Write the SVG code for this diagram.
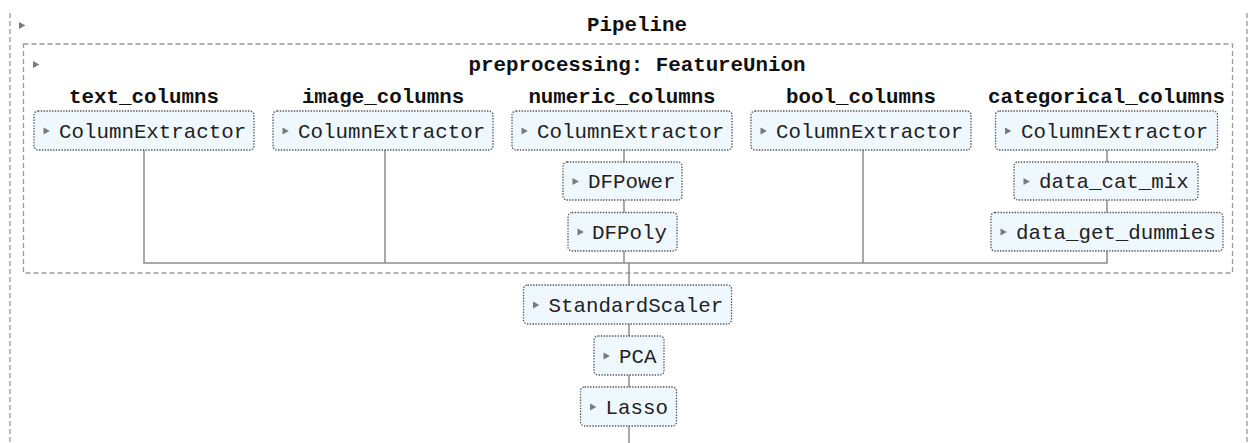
<svg xmlns="http://www.w3.org/2000/svg" width="1253" height="443" viewBox="0 0 1253 443">
  <style>
    .bg { fill: #ffffff; }
    .frame { fill: none; stroke: #9a9a9a; stroke-width: 1.3; stroke-dasharray: 5 3; }
    .wire { fill: none; stroke: #8c8c8c; stroke-width: 1.5; }
    .box { fill: #f0f8ff; stroke: #555555; stroke-width: 1.3; stroke-dasharray: 1.4 1.4; }
    .lbl { font-family: "Liberation Mono", "Courier New", monospace; font-size: 20.8px; fill: #222222; }
    .ttl { font-family: "Liberation Mono", "Courier New", monospace; font-size: 20.8px; font-weight: bold; fill: #111111; text-anchor: middle; }
    .tri { fill: #7a7a7a; }
  </style>
  <defs>
    <path id="caret" d="M0,-3.6 L6.4,0 L0,3.6 Z"/>
  </defs>

  <rect class="bg" x="0" y="0" width="1253" height="443"/>

  <!-- Pipeline container -->
  <g id="pipeline">
    <line class="frame" x1="10" y1="13" x2="10" y2="443"/>
    <line class="frame" x1="1247" y1="13" x2="1247" y2="443"/>
    <use href="#caret" class="tri" x="19" y="25.5"/>
    <text class="ttl" x="637" y="31">Pipeline</text>
  </g>

  <!-- FeatureUnion container -->
  <g id="preprocessing">
    <rect class="frame" x="23.5" y="44" width="1209" height="229"/>
    <use href="#caret" class="tri" x="33" y="64.5"/>
    <text class="ttl" x="637" y="71">preprocessing: FeatureUnion</text>
    <text class="ttl" x="144" y="103">text_columns</text>
    <text class="ttl" x="383" y="103">image_columns</text>
    <text class="ttl" x="622" y="103">numeric_columns</text>
    <text class="ttl" x="861" y="103">bool_columns</text>
    <text class="ttl" x="1106.5" y="103">categorical_columns</text>
  </g>

  <!-- connectors -->
  <g id="connectors">
    <line class="wire" x1="144" y1="150" x2="144" y2="263"/>
    <line class="wire" x1="385" y1="150" x2="385" y2="263"/>
    <line class="wire" x1="624" y1="150" x2="624" y2="263"/>
    <line class="wire" x1="863" y1="150" x2="863" y2="263"/>
    <line class="wire" x1="1107" y1="150" x2="1107" y2="263"/>
    <line class="wire" x1="143.25" y1="263" x2="1107.75" y2="263"/>
    <line class="wire" x1="629" y1="263" x2="629" y2="443"/>
  </g>

  <!-- estimators -->
  <g id="text_columns_extractor">
    <rect class="box" x="34" y="111" width="220" height="39" rx="4"/>
    <use href="#caret" class="tri" x="43.5" y="131"/>
    <text class="lbl" x="59" y="137.5">ColumnExtractor</text>
  </g>
  <g id="image_columns_extractor">
    <rect class="box" x="273" y="111" width="220" height="39" rx="4"/>
    <use href="#caret" class="tri" x="282.5" y="131"/>
    <text class="lbl" x="298" y="137.5">ColumnExtractor</text>
  </g>
  <g id="numeric_columns_extractor">
    <rect class="box" x="512" y="111" width="220" height="39" rx="4"/>
    <use href="#caret" class="tri" x="521.5" y="131"/>
    <text class="lbl" x="537" y="137.5">ColumnExtractor</text>
  </g>
  <g id="bool_columns_extractor">
    <rect class="box" x="751" y="111" width="220" height="39" rx="4"/>
    <use href="#caret" class="tri" x="760.5" y="131"/>
    <text class="lbl" x="776" y="137.5">ColumnExtractor</text>
  </g>
  <g id="categorical_columns_extractor">
    <rect class="box" x="995.5" y="111" width="222" height="39" rx="4"/>
    <use href="#caret" class="tri" x="1005" y="131"/>
    <text class="lbl" x="1021" y="137.5">ColumnExtractor</text>
  </g>
  <g id="dfpower">
    <rect class="box" x="563" y="162" width="119" height="38" rx="4"/>
    <use href="#caret" class="tri" x="572.5" y="181.5"/>
    <text class="lbl" x="588" y="188">DFPower</text>
  </g>
  <g id="dfpoly">
    <rect class="box" x="568" y="212.5" width="109" height="38.5" rx="4"/>
    <use href="#caret" class="tri" x="577.5" y="232"/>
    <text class="lbl" x="592" y="238.5">DFPoly</text>
  </g>
  <g id="data_cat_mix">
    <rect class="box" x="1014" y="162" width="184" height="38" rx="4"/>
    <use href="#caret" class="tri" x="1023.5" y="181.5"/>
    <text class="lbl" x="1039" y="188">data_cat_mix</text>
  </g>
  <g id="data_get_dummies">
    <rect class="box" x="991" y="212.5" width="232" height="38.5" rx="4"/>
    <use href="#caret" class="tri" x="1000.5" y="232"/>
    <text class="lbl" x="1016" y="238.5">data_get_dummies</text>
  </g>
  <g id="standardscaler">
    <rect class="box" x="523.5" y="285" width="208" height="39" rx="4"/>
    <use href="#caret" class="tri" x="533" y="305"/>
    <text class="lbl" x="548.5" y="311.5">StandardScaler</text>
  </g>
  <g id="pca">
    <rect class="box" x="594" y="336" width="70" height="39" rx="4"/>
    <use href="#caret" class="tri" x="603.5" y="356"/>
    <text class="lbl" x="619" y="362.5">PCA</text>
  </g>
  <g id="lasso">
    <rect class="box" x="580.5" y="387" width="96" height="39" rx="4"/>
    <use href="#caret" class="tri" x="590" y="407"/>
    <text class="lbl" x="605.5" y="413.5">Lasso</text>
  </g>
</svg>
